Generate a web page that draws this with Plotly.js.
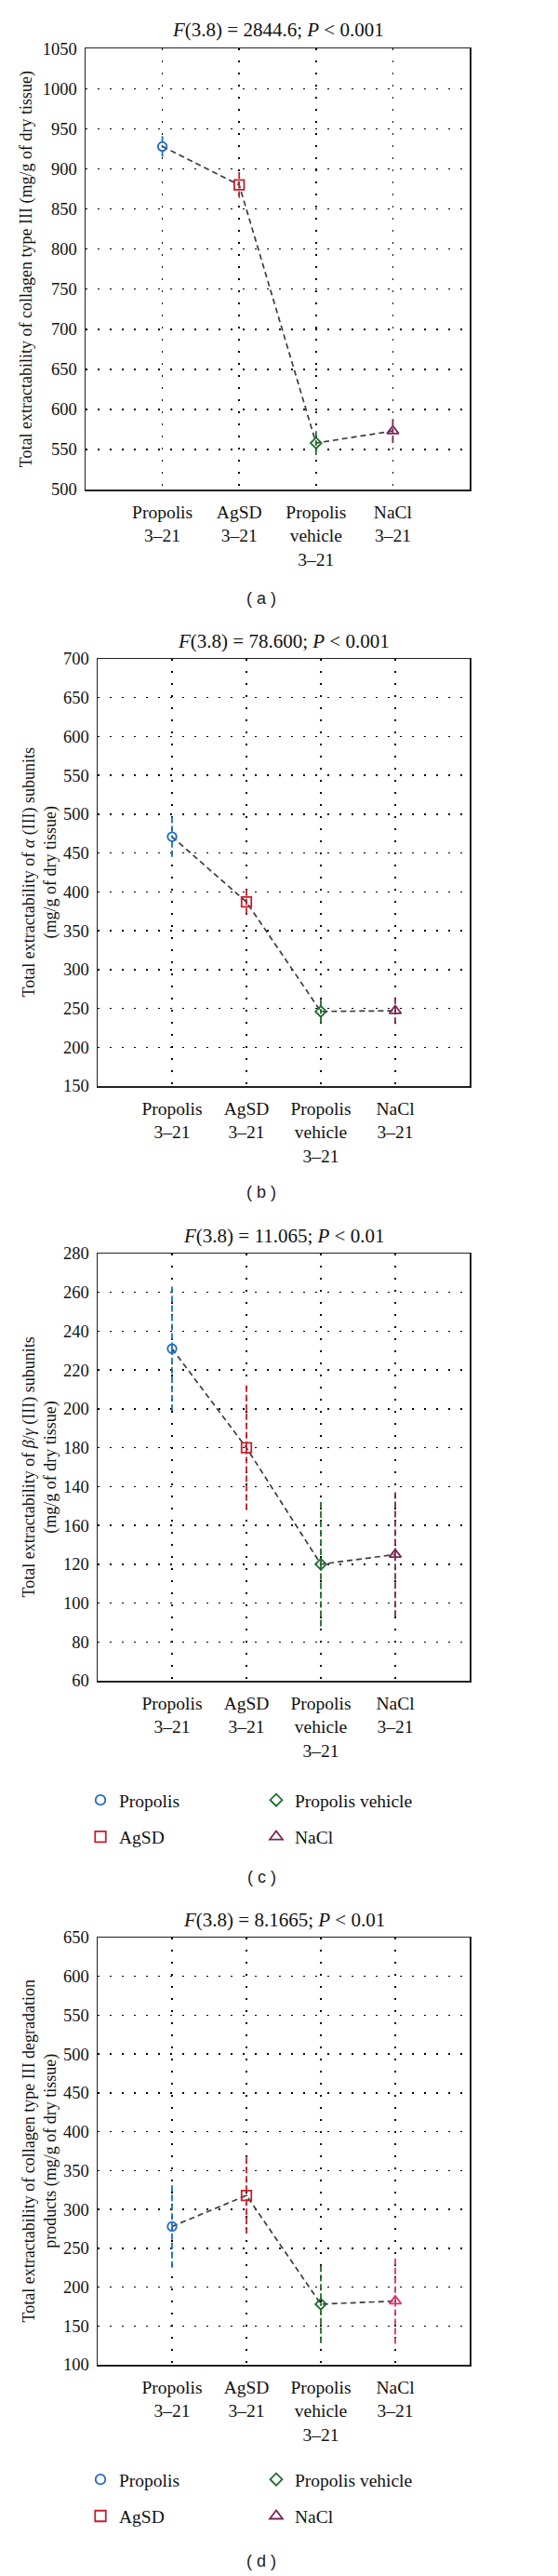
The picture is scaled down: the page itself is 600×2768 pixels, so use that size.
<!DOCTYPE html>
<html>
<head>
<meta charset="utf-8">
<script src="https://cdn.plot.ly/plotly-3.0.1.min.js"></script>
<style>
html,body{margin:0;padding:0;background:#fff;}
#chart{width:600px;height:2768px;}
</style>
</head>
<body>
<div id="chart"></div>
<script>
// ---- data ----
const groups = ['Propolis', 'AgSD', 'Propolis vehicle', 'NaCl'];
const tickLabels = ['Propolis<br>3–21', 'AgSD<br>3–21', 'Propolis<br>vehicle<br>3–21', 'NaCl<br>3–21'];

const meanA = [928, 880, 558, 573];
const errA  = [13, 16, 15, 15];
const meanB = [471, 387, 246, 247];
const errB  = [26, 16, 15, 17];
const meanC = [231, 180, 120, 125];
const errC  = [32, 32, 32, 32];
const meanD = [278, 318, 178, 182];
const errD  = [53, 49, 50, 55];

const yTicksA = [500, 550, 600, 650, 700, 750, 800, 850, 900, 950, 1000, 1050];
const yTicksB = [150, 200, 250, 300, 350, 400, 450, 500, 550, 600, 650, 700];
const yTicksC = [60, 80, 100, 120, 140, 160, 180, 200, 220, 240, 260, 280];
const yTickTextC = ['60', '80', '100', '120', '160', '140', '180', '200', '220', '240', '260', '280'];
const yTicksD = [100, 150, 200, 250, 300, 350, 400, 450, 500, 550, 600, 650];

const titles = [
  '<i>F</i>(3.8) = 2844.6; <i>P</i> &lt; 0.001',
  '<i>F</i>(3.8) = 78.600; <i>P</i> &lt; 0.001',
  '<i>F</i>(3.8) = 11.065; <i>P</i> &lt; 0.01',
  '<i>F</i>(3.8) = 8.1665; <i>P</i> &lt; 0.01'
];
const yTitles = [
  'Total extractability of collagen type III (mg/g of dry tissue)',
  'Total extractability of <i>α</i> (III) subunits<br>(mg/g of dry tissue)',
  'Total extractability of <i>β</i>/<i>γ</i> (III) subunits<br>(mg/g of dry tissue)',
  'Total extractability of collagen type III degradation<br>products (mg/g of dry tissue)'
];
const panelLabels = ['( a )', '( b )', '( c )', '( d )'];

// ---- styles ----
const W = 600, H = 2768;
const px = x => x / W;
const py = y => 1 - y / H;
const SERIF = 'Liberation Serif, Times New Roman, serif';
const colorsStd = ['#1f6cc4', '#c81e2a', '#1d6b2c', '#7b2458'];
const colorsD = ['#1f6cc4', '#c81e2a', '#1d6b2c', '#d8336f'];
const symbols = ['circle-open', 'square-open', 'diamond-open', 'triangle-up-open'];
const sizes = [9.5, 10.5, 9, 11];

const panels = [
  {mean: meanA, err: errA, ticks: yTicksA, tickText: null, range: [500, 1050], box: [92, 505, 52.3, 526], titleY: 32, labelY: 643, colors: colorsStd, legend: false, yTitleX: 28},
  {mean: meanB, err: errB, ticks: yTicksB, tickText: null, range: [150, 700], box: [105, 505, 708, 1167], titleY: 689, labelY: 1281, colors: colorsStd, legend: false, yTitleX: 42},
  {mean: meanC, err: errC, ticks: yTicksC, tickText: yTickTextC, range: [60, 280], box: [105, 505, 1347, 1806], titleY: 1328, labelY: 2017, colors: colorsStd, legend: true, legTop: 1915, yTitleX: 42},
  {mean: meanD, err: errD, ticks: yTicksD, tickText: null, range: [100, 650], box: [105, 505, 2082, 2541], titleY: 2063, labelY: 2752, colors: colorsD, legend: true, legTop: 2645, yTitleX: 42}
];

const traces = [];
const layout = {
  width: W, height: H,
  margin: {l: 0, r: 0, t: 0, b: 0},
  paper_bgcolor: '#fff', plot_bgcolor: '#fff',
  font: {family: SERIF, color: '#111', size: 18},
  showlegend: true,
  annotations: []
};

let legendIdx = 1;
panels.forEach((p, i) => {
  const n = i === 0 ? '' : String(i + 1);
  const xa = 'x' + n, ya = 'y' + n;
  const [l, r, t, b] = p.box;

  layout['xaxis' + n] = {
    domain: [px(l), px(r)], anchor: ya,
    type: 'category', categoryorder: 'array', categoryarray: groups,
    range: [-1, 4],
    tickvals: groups, ticktext: tickLabels,
    tickfont: {family: SERIF, size: 19.5, color: '#111'},
    ticklabelstandoff: 6,
    showgrid: true, gridcolor: '#000', gridwidth: 1.5, griddash: '2px,11px',
    showline: true, linecolor: '#222', linewidth: 1.5, mirror: true,
    zeroline: false, ticks: '', fixedrange: true
  };
  const yax = {
    domain: [py(b), py(t)], anchor: xa,
    range: p.range, tickvals: p.ticks,
    tickfont: {family: SERIF, size: 18.5, color: '#111'},
    ticklabelstandoff: 4,
    showgrid: true, gridcolor: '#000', gridwidth: 1.5, griddash: '2px,11px',
    showline: true, linecolor: '#222', linewidth: 1.5, mirror: true,
    zeroline: false, ticks: '', fixedrange: true
  };
  if (p.tickText) yax.ticktext = p.tickText;
  layout['yaxis' + n] = yax;

  // connecting dashed line of means
  traces.push({
    x: groups, y: p.mean, xaxis: xa, yaxis: ya,
    mode: 'lines', line: {color: '#3d3d3d', width: 1.7, dash: '6px,4px'},
    showlegend: false, hoverinfo: 'skip'
  });

  // error bars (dashed vertical segments)
  groups.forEach((g, k) => {
    const m = p.mean[k], e = p.err[k];
    traces.push({
      x: [g, g, null, g, g], y: [m + e, m, null, m - e, m],
      xaxis: xa, yaxis: ya, mode: 'lines',
      line: {color: p.colors[k], width: 1.8, dash: '7px,3px'},
      showlegend: false, hoverinfo: 'skip'
    });
  });

  let legA = null, legB = null;
  if (p.legend) {
    legA = legendIdx === 1 ? 'legend' : 'legend' + legendIdx;
    legB = 'legend' + (legendIdx + 1);
    const common = {
      orientation: 'v', xanchor: 'left', yanchor: 'top',
      y: py(p.legTop), bgcolor: 'rgba(0,0,0,0)', borderwidth: 0,
      font: {family: SERIF, size: 19.5, color: '#111'},
      tracegroupgap: 11, itemwidth: 30
    };
    layout[legA] = Object.assign({x: px(88)}, common);
    layout[legB] = Object.assign({x: px(277)}, common);
    legendIdx += 2;
  }

  // markers
  groups.forEach((g, k) => {
    traces.push({
      x: [g], y: [p.mean[k]], xaxis: xa, yaxis: ya,
      mode: 'markers', name: g,
      marker: {symbol: symbols[k], size: sizes[k], color: p.colors[k], line: {color: p.colors[k], width: 1.8}},
      showlegend: false, hoverinfo: 'skip'
    });
  });

  // legend entries (legend symbols use the standard group colours)
  if (p.legend) {
    groups.forEach((g, k) => {
      traces.push({
        x: [g], y: [null], xaxis: xa, yaxis: ya,
        mode: 'markers', name: g,
        marker: {symbol: symbols[k], size: sizes[k] + 1, color: colorsStd[k], line: {color: colorsStd[k], width: 1.8}},
        showlegend: true, legend: (k === 0 || k === 1) ? legA : legB,
        legendgroup: 'p' + i + 'g' + k, hoverinfo: 'skip'
      });
    });
  }

  // title
  layout.annotations.push({
    xref: 'paper', yref: 'paper', x: px((l + r) / 2), y: py(p.titleY),
    xanchor: 'center', yanchor: 'middle', showarrow: false,
    text: titles[i], font: {family: SERIF, size: 21, color: '#111'}
  });
  // y-axis title
  layout.annotations.push({
    xref: 'paper', yref: 'paper', x: px(p.yTitleX), y: py((t + b) / 2),
    xanchor: 'center', yanchor: 'middle', showarrow: false, textangle: -90,
    text: yTitles[i], font: {family: SERIF, size: 18, color: '#111'}
  });
  // panel label
  layout.annotations.push({
    xref: 'paper', yref: 'paper', x: px(281), y: py(p.labelY),
    xanchor: 'center', yanchor: 'middle', showarrow: false,
    text: panelLabels[i], font: {family: 'Liberation Sans, Arial, sans-serif', size: 18, color: '#222'}
  });
});

Plotly.newPlot('chart', traces, layout, {staticPlot: true, displayModeBar: false});
</script>
</body>
</html>
